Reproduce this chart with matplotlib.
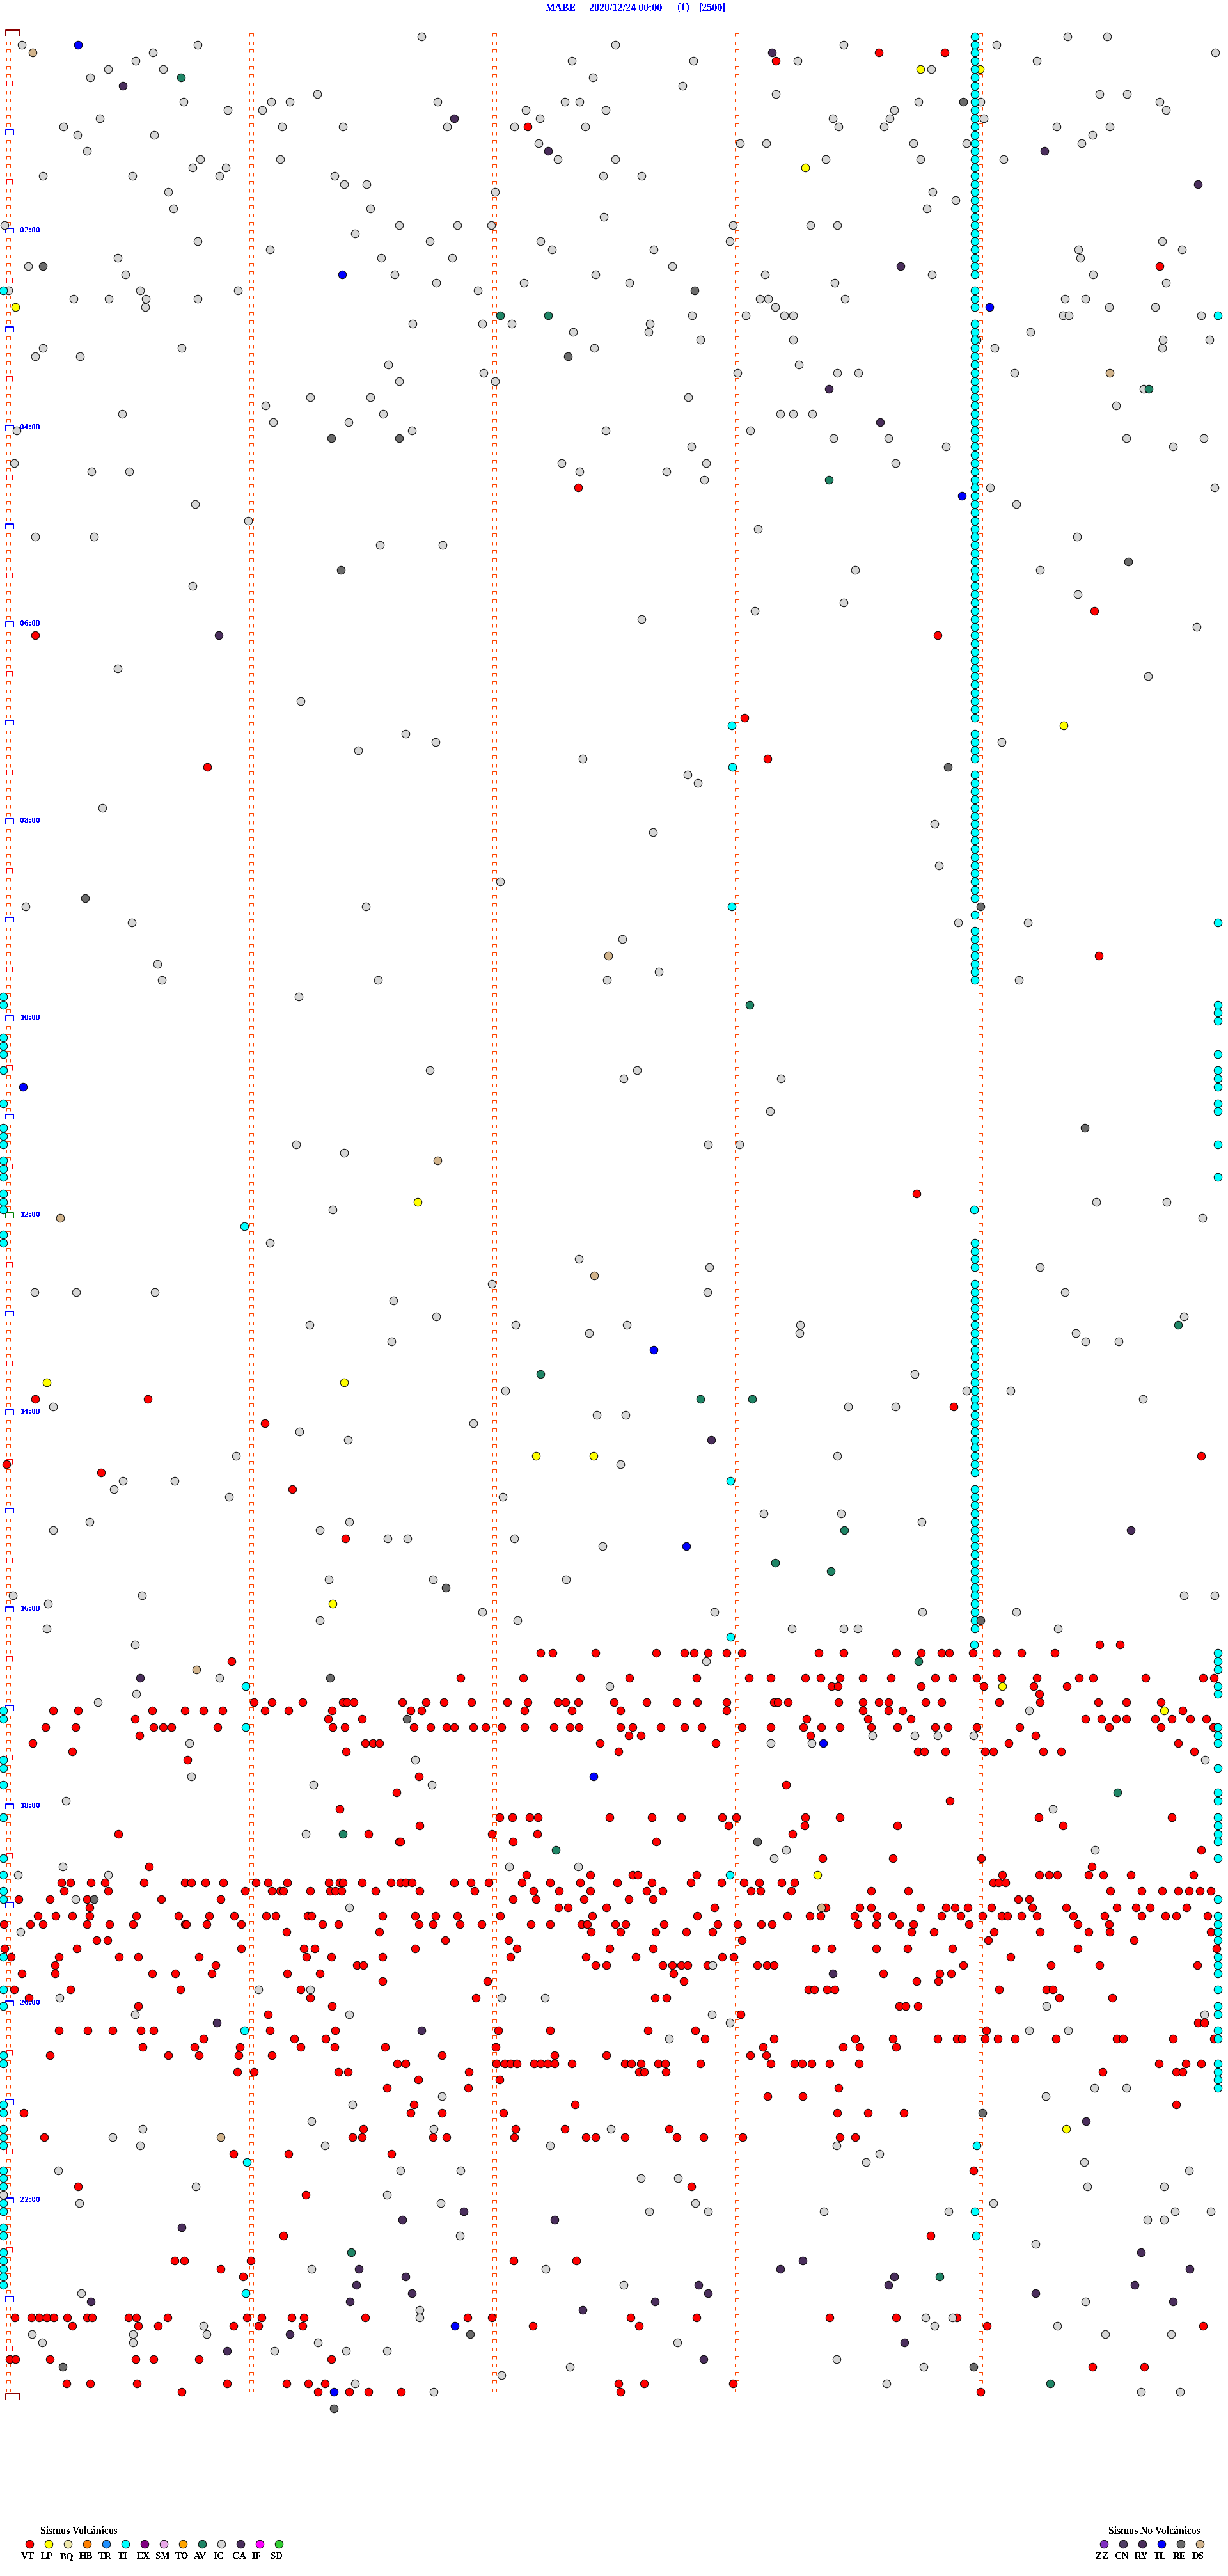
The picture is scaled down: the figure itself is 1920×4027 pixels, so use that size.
import matplotlib
matplotlib.use("Agg")
import matplotlib.pyplot as plt
from matplotlib.path import Path

plt.rcParams['font.family'] = ['Liberation Serif', 'DejaVu Serif']
plt.rcParams['text.antialiased'] = False

## DATA
# every event is row (one row = 5 min) -> positions along the row
# position scale: 310 units = 1 minute

VT = {2:[1122,1206], 3:[991], 11:[674], 28:[1481], 55:[738], 70:[1397], 73:[45,1197], 83:[951], 88:[980], 89:[265],
112:[1403], 141:[1170], 166:[45,189], 167:[1218], 169:[338], 173:[1534], 174:[8], 175:[129], 177:[373], 183:[441],
196:[1404,1430],
197:[690,706,760,838,874,886,904,928,947,1045,1077,1144,1176,1202,1212,1242,1272,1304,1347],
198:[296],
200:[588,668,741,804,889,956,984,1028,1048,1072,1102,1138,1194,1216,1247,1279,1324,1378,1396,1463,1536,1550],
201:[1062,1070,1176,1256,1320,1362],
202:[1327],
203:[324,347,386,438,443,452,514,544,567,602,648,674,712,722,738,784,826,864,890,928,988,993,1006,1071,1102,1122,1134,1182,1202,1276,1328,1402,1438,1482],
204:[68,100,194,236,260,284,338,368,424,524,538,670,730,792,928,1102,1134,1152,1510],
205:[172,419,462,1030,1108,1163,1386,1406,1425,1438,1475,1496,1520,1540],
206:[58,96,196,208,219,278,425,440,528,550,570,580,604,620,640,670,707,728,739,792,808,844,874,896,947,984,1026,1049,1072,1112,1146,1194,1210,1247,1302,1416,1482,1549],
207:[178,803,818,1035,1322],
208:[42,466,476,484,766,914,1288,1504],
209:[92,442,790,1172,1180,1207,1258,1268,1332,1355,1525],
210:[239], 212:[535], 213:[1004], 214:[506], 215:[1213], 216:[434],
217:[638,654,676,687,778,832,870,922,940,1028,1072,1326,1496],
218:[536,930,1027,1146,1357],
219:[151,470,628,686,1012],
220:[510,511,655,838],
221:[1534],
222:[1050,1140,1253],
223:[190,1394],
224:[672,754,808,814,889,1280,1327,1339,1350,1390,1409,1444,1524],
225:[78,90,116,134,184,236,244,262,285,327,342,367,420,434,438,462,499,511,518,526,580,601,624,666,702,741,788,832,882,921,950,969,998,1014,1268,1275,1284],
226:[82,138,313,347,358,362,396,421,428,436,479,536,606,681,714,754,826,846,959,971,1010,1112,1160,1418,1458,1484,1504,1518,1532,1546],
227:[24,64,111,206,282,655,684,746,803,834,1300,1314],
228:[114,713,725,774,912,1054,1098,1112,1175,1208,1219,1236,1266,1318,1361,1426,1450,1468,1515],
229:[48,71,92,114,174,228,267,299,340,352,393,398,488,530,556,584,639,756,890,1005,1034,1048,1091,1120,1139,1202,1227,1254,1279,1286,1304,1324,1370,1410,1458,1488,1502,1542],
230:[5,38,55,111,140,170,236,238,264,308,412,432,535,553,587,615,678,702,742,750,786,799,848,916,942,972,986,1095,1119,1148,1166,1237,1376,1416],
231:[366,484,755,792,837,876,910,1164,1192,1269,1328,1390,1417,1546],
232:[123,137,568,649,947,1262,1448],
233:[6,98,308,388,402,530,660,778,834,1041,1062,1119,1159,1216,1376,1553],
234:[14,75,152,176,254,391,423,488,652,748,812,922,937,1290],
235:[70,275,456,464,760,774,846,858,870,878,903,967,979,988,1230,1342,1404,1529],
236:[28,70,194,224,270,367,408,860,1128,1200,1214],
237:[488,622,873,1170,1198],
238:[18,90,230,384,1032,1040,1056,1066,1276,1336,1344],
239:[37,396,608,836,851,1352,1420],
240:[176,424,1148,1156,1172],
241:[342,946],
242:[1530,1538],
243:[75,112,144,180,196,345,428,636,702,827,888,1259],
244:[260,376,416,900,988,1092,1140,1197,1222,1228,1258,1274,1296,1348,1426,1434,1498,1550],
245:[182,248,306,384,427,492,633,974,1076,1098,1144],
246:[64,215,254,305,347,564,708,774,958,978],
247:[507,518,634,644,652,660,682,690,699,708,730,798,806,818,840,849,894,984,1014,1024,1036,1059,1097,1480,1514,1534],
248:[303,324,432,444,599,816,822,850,1408,1502,1510],
249:[534,638],
250:[494,598,1071],
251:[980,1025],
252:[528,734,1502],
253:[30,524,564,643,1069,1108,1154],
255:[464,658,721,854],
256:[56,450,462,553,570,657,748,760,798,864,898,948,1072,1092],
258:[298,368,500],
260:[1243],
262:[100,883],
263:[390],
268:[362,1188],
271:[223,235,320,656,736],
272:[282],
273:[310],
278:[19,40,50,60,69,86,111,118,164,174,214,315,334,372,388,466,597,628,805,889,1059,1144,1222],
279:[92,176,202,298,330,386,680,816,1260,1536],
283:[12,20,64,173,196,254,423],
284:[1395,1461],
286:[85,115,175,290,366,394,415,790,822,936],
287:[232,406,446,470,512,792,1252]}

LP = {4:[1175,1251], 16:[1028], 33:[20], 84:[1358], 142:[533], 164:[60,439], 173:[684,758], 191:[425],
201:[1280], 204:[1486], 224:[1044], 255:[1361]}

IC = {0:[538,1363,1414], 1:[28,252,786,1077,1272], 2:[195,1552], 3:[173,730,885,1018,1324], 4:[138,208,1189],
5:[115,757], 6:[871], 7:[405,991,1404,1439], 8:[234,346,370,559,721,740,1173,1252,1481], 9:[291,335,671,773,1142,1489],
10:[127,689,1063,1136,1256], 11:[81,360,438,571,657,747,1071,1129,1349,1417], 12:[99,197,1395],
13:[688,945,978,1166,1234,1381], 14:[111], 15:[256,358,712,786,1054,1175,1281], 16:[246,288],
17:[55,169,280,427,770,819], 18:[439,468], 19:[215,632,1191], 20:[1220], 21:[221,473,1183], 22:[771],
23:[6,510,584,627,936,1035,1069], 24:[453], 25:[252,549,690,932,1484], 26:[345,705,835,1377,1509],
27:[150,487,577,1379], 28:[36,858], 29:[160,504,760,977,1190,1396], 30:[557,669,804,1066,1489],
31:[11,179,304,610], 32:[94,139,186,252,970,981,1079,1360,1386], 33:[185,990,1416,1475],
34:[884,952,1001,1013,1357,1365,1534], 35:[527,616,653,830], 36:[732,828,1316], 37:[894,1013,1247,1485,1544],
38:[55,232,759,1270,1484], 39:[45,102], 40:[496,1020], 41:[617,942,1069,1096,1295], 42:[510,632], 43:[1460],
44:[396,473,879], 45:[339,1425], 46:[156,489,996,1013,1037], 47:[349,445], 48:[21,526,773,958],
49:[1064,1134,1438,1537], 50:[883,1208,1498], 52:[18,717,902,1143], 53:[117,165,740,851], 54:[899],
55:[1264,1551], 57:[249,1298], 59:[317], 60:[968], 61:[45,120,1375], 62:[485,565],
65:[1092,1328], 67:[246], 68:[1376], 69:[1077], 70:[964], 71:[819], 72:[1528], 77:[150], 78:[1466], 81:[384],
85:[518], 86:[556,1279], 87:[457], 88:[744], 90:[878], 91:[891], 94:[131], 96:[1193], 97:[834], 101:[1199],
103:[639], 106:[33,467], 108:[168,1223,1312], 110:[795], 113:[201], 114:[841], 115:[207,483,775,1301],
117:[381], 126:[549,813], 127:[796,997],
131:[983], 135:[378,904,944], 136:[439], 142:[1400,1490], 143:[425], 144:[1535], 147:[345], 149:[739],
150:[906,1328], 152:[628], 153:[44,97,198,903,1360], 154:[502], 156:[557,1512], 157:[395,658,800,1022],
158:[752,1021,1374], 159:[500,1386,1428], 163:[1168], 165:[645,1234,1290], 166:[1459], 167:[68,1083,1143],
168:[762,799], 169:[604], 170:[382], 171:[444], 173:[301,1069], 174:[792], 176:[157,223], 177:[145], 178:[292,642],
180:[975,1074], 181:[114,446,1177], 182:[68,408], 183:[495,520,657], 184:[769], 188:[420,553,723],
190:[16,181,1512,1551], 191:[61], 192:[616,912,1178,1298], 193:[408,661], 194:[60,1011,1077,1095,1351],
196:[172], 198:[902], 200:[280], 201:[778], 202:[174], 203:[125], 204:[1314], 207:[1114,1168,1197,1243],
208:[242,984,1036], 210:[530,1539], 212:[244], 213:[400,551], 215:[84], 216:[1344], 219:[390], 221:[1004,1398],
222:[988], 223:[80,650,738], 224:[23,138], 227:[96], 228:[446], 231:[26], 235:[910], 238:[330,396],
239:[76,640,696], 240:[1336], 241:[172,446,909,1538], 242:[932], 243:[1314,1364], 244:[854], 250:[1397,1438],
251:[564,1335], 252:[450], 254:[398], 255:[182,554,780], 256:[144], 257:[179,415,702,1068], 258:[1123],
259:[1106,1384], 260:[74,511,588,1518], 261:[818,866], 262:[250,1388,1486], 263:[4,494], 264:[101,563,888,1268],
265:[829,904,1052,1211,1500,1546], 266:[1465,1486], 268:[587], 269:[1322], 272:[398,697], 274:[796], 275:[104],
276:[1386], 277:[536], 278:[536,1182,1216], 279:[260,1193,1350], 280:[41,170,264,1411,1495],
281:[54,170,406,865], 282:[350,442,494], 283:[1068], 284:[728,1179], 285:[640], 286:[453,1132],
287:[554,1457,1507]}

CA = {2:[986], 6:[157], 10:[580], 14:[700,1334], 18:[1530], 28:[1150], 43:[1058], 47:[1124], 73:[279], 171:[908], 182:[1444],
200:[179], 236:[1063], 242:[277], 243:[538], 254:[1387], 265:[592], 266:[514,708], 267:[232], 270:[1457], 271:[1025],
272:[458,996,1519], 273:[518,1142], 274:[455,892,1134,1449], 275:[526,904,1322], 276:[116,447,836,1498],
277:[744], 280:[370], 281:[1155], 282:[290], 283:[898]}

AV = {5:[231], 34:[639,700], 43:[1467], 54:[1058], 118:[957], 157:[1504], 163:[690], 166:[894,960], 182:[1078],
186:[990], 187:[1061], 198:[1173], 214:[1427], 219:[438], 221:[710], 270:[448], 273:[1200], 286:[1341]}

TL = {1:[100], 29:[437], 33:[1263], 56:[1228], 128:[29], 160:[835], 184:[876], 208:[1051], 212:[758], 279:[581], 287:[426]}

RE = {8:[1230], 28:[55], 31:[887], 39:[725], 49:[423,510], 64:[1441], 65:[435], 89:[1210], 105:[109], 106:[1252],
133:[1385], 189:[569], 193:[1252], 200:[421], 205:[519], 220:[967], 227:[120], 253:[1254], 280:[600], 284:[80,1243], 289:[426]}

DS = {2:[42], 41:[1417], 112:[777], 137:[559], 144:[77], 151:[759], 199:[251], 228:[1049], 256:[282]}

# TI events not on the three long runs below
TI_other = {84:[934], 89:[935], 106:[934], 143:[1244], 145:[312], 176:[933], 195:[933], 196:[1244], 201:[314], 206:[314],
224:[932], 243:[312], 257:[1247], 259:[315], 265:[1245], 268:[1246], 275:[314]}

ti_left_x = 4
ti_left_rows = [31,117,118,122,123,124,126,130,133,134,135,137,138,139,141,142,143,146,147,204,205,210,211,213,217,222,224,
226,227,234,238,240,246,247,252,253,255,256,257,260,261,262,264,265,267,268,270,271,272,273,274]
ti_right_x = 1555
ti_right_rows = [34,108,118,119,120,124,126,127,128,130,131,135,139,197,198,199,201,202,206,207,208,211,214,215,217,218,219,220,
222,227,229,230,231,232,234,235,236,238,240,241,243,244,247,248,249,250]
ti_column_x = 1245
ti_column_rows = [0,1,2,3,4,5,6,7,8,9,10,11,12,13,14,15,16,17,18,19,20,21,22,23,24,25,26,27,28,29,31,32,33,
35,36,37,38,39,40,41,42,43,44,45,46,47,48,49,50,51,52,53,54,55,56,57,58,59,60,61,62,63,64,65,66,67,68,69,70,
71,72,73,74,75,76,77,78,79,80,81,82,83,85,86,87,88,90,91,92,93,94,95,96,97,98,99,100,101,102,103,104,105,107,
109,110,111,112,113,114,115,147,148,149,150,152,153,154,155,156,157,158,159,160,161,162,163,164,165,166,167,
168,169,170,171,172,173,174,175,177,178,179,180,181,182,183,184,185,186,187,188,189,190,191,192,193,194]

minute_x = [10.6, 321, 631, 941, 1252]
n_rows = 288
hour_labels = ['02:00','04:00','06:00','08:00','10:00','12:00','14:00','16:00','18:00','20:00','22:00']
hour_rows = [24,48,72,96,120,144,168,192,216,240,264]

volc_names = ['VT','LP','BQ','HB','TR','TI','EX','SM','TO','AV','IC','CA','IF','SD']
volc_colors = ['#FF0000','#FFFF00','#EEE8AA','#FF8000','#1E90FF','#00FFFF','#800080','#E8A8E8','#FFA500','#1F8566','#D6D6D6','#4A2E5C','#FF00FF','#32CD32']
novolc_names = ['ZZ','CN','RY','TL','RE','DS']
novolc_colors = ['#8030C0','#503F66','#4A2E5C','#0000FF','#6B6B6B','#D2B48C']

## PLOT
fig = plt.figure(figsize=(19.20, 40.27), dpi=100)
ax = fig.add_axes([0, 0, 1, 1])
ax.set_xlim(0, 1568)
ax.set_ylim(309.45, -4.42)
ax.axis('off')

# overlay in pixels for title, legend and hour labels
px = fig.add_axes([0, 0, 1, 1], facecolor='none')
px.set_xlim(0, 1920)
px.set_ylim(4027, 0)
px.axis('off')

PT = 0.72  # one pixel in points
DOT = 80   # circle area


def bracket(x0, x1, h):
    # little open-bottom box hanging above the row line, sizes in pixels
    verts = [(x0, 0), (x0, h), (x1, h), (x1, 0)]
    size = 2 * max(abs(x0), abs(x1), h) * PT
    return Path(verts, [Path.MOVETO, Path.LINETO, Path.LINETO, Path.LINETO]), size


small, small_ms = bracket(-2.7, 2.7, 5)
halfh, halfh_ms = bracket(-2.7, 5.7, 8.4)
hour, hour_ms = bracket(-3.7, 7.7, 8.4)
edge, edge_ms = bracket(-3.7, 17.6, 10)


def marks(x, rows, path, ms, color, lw):
    ax.plot([x] * len(rows), rows, ls='none', marker=path, ms=ms, mew=lw * PT, mfc='none', mec=color,
            antialiased=False, zorder=2)


big_rows = [r for r in range(0, n_rows + 1) if r % 6 == 0]
marks(minute_x[0], [r for r in range(1, n_rows) if r not in big_rows], small, small_ms, '#FF4500', 1)
for x in minute_x[1:]:
    marks(x, list(range(0, n_rows)), small, small_ms, '#FF4500', 1)
marks(minute_x[0], [r for r in big_rows if r % 12 == 6], halfh, halfh_ms, '#FF0000', 1)
marks(minute_x[0], [r for r in big_rows if r % 12 == 0 and r not in (0, 144, 288)], hour, hour_ms, '#0000FF', 2)
marks(minute_x[0], [144], hour, hour_ms, '#008000', 2)
marks(minute_x[0], [0, 288], edge, edge_ms, '#8B0000', 2)


def events(data, color, z):
    xs, ys = [], []
    for r in data:
        for v in data[r]:
            xs.append(v)
            ys.append(r)
    ax.scatter(xs, ys, s=DOT, c=color, edgecolors='black', linewidths=PT, antialiaseds=False, zorder=z)


events(VT, '#FF0000', 3)
events(LP, '#FFFF00', 3.1)
events(DS, '#D2B48C', 3.2)
events(CA, '#4A2E5C', 3.3)
events(TL, '#0000FF', 3.4)
events(IC, '#D6D6D6', 3.5)
events(AV, '#1F8566', 3.6)
events(TI_other, '#00FFFF', 4)
ax.scatter([ti_left_x] * len(ti_left_rows), ti_left_rows, s=DOT, c='#00FFFF', edgecolors='black', linewidths=PT, antialiaseds=False, zorder=4)
ax.scatter([ti_right_x] * len(ti_right_rows), ti_right_rows, s=DOT, c='#00FFFF', edgecolors='black', linewidths=PT, antialiaseds=False, zorder=4)
ax.scatter([ti_column_x] * len(ti_column_rows), ti_column_rows, s=DOT, c='#00FFFF', edgecolors='black', linewidths=PT, antialiaseds=False, zorder=4)
events(RE, '#6B6B6B', 5)

for lab, r in zip(hour_labels, hour_rows):
    px.text(31.7, 56.7 + 12.83 * r - 5, lab, color='#0000FF', fontsize=9.7, fontweight='bold', ha='left', va='center', zorder=6)

# title pieces
for txt, x in [('MABE', 853), ('2020/12/24 00:00', 921), ('(1)', 1059), ('[2500]', 1092.5)]:
    px.text(x, 12.7, txt, color='#0000FF', fontsize=11.5, fontweight='bold', ha='left', va='center')

# legends
px.text(63.3, 3956.7, 'Sismos Volcánicos', fontsize=11.25, fontweight='bold', ha='left', va='center', color='black')
for i, (name, col) in enumerate(zip(volc_names, volc_colors)):
    px.scatter(45.7 + 30 * i, 3977, s=DOT, c=col, edgecolors='black', linewidths=PT, antialiaseds=False)
    px.text(33.3 + 30 * i, 3996.7, name, fontsize=10.8, fontweight='bold', ha='left', va='center', color='black')

px.text(1733.3, 3956.7, 'Sismos No Volcánicos', fontsize=11.25, fontweight='bold', ha='left', va='center', color='black')
for i, (name, col) in enumerate(zip(novolc_names, novolc_colors)):
    px.scatter(1725.7 + 30 * i, 3977, s=DOT, c=col, edgecolors='black', linewidths=PT, antialiaseds=False)
    px.text(1713.3 + 30 * i, 3996.7, name, fontsize=10.8, fontweight='bold', ha='left', va='center', color='black')

px.set_xlim(0, 1920)
px.set_ylim(4027, 0)

fig.savefig('out.png', dpi=100, facecolor='white')
print("--done--")
